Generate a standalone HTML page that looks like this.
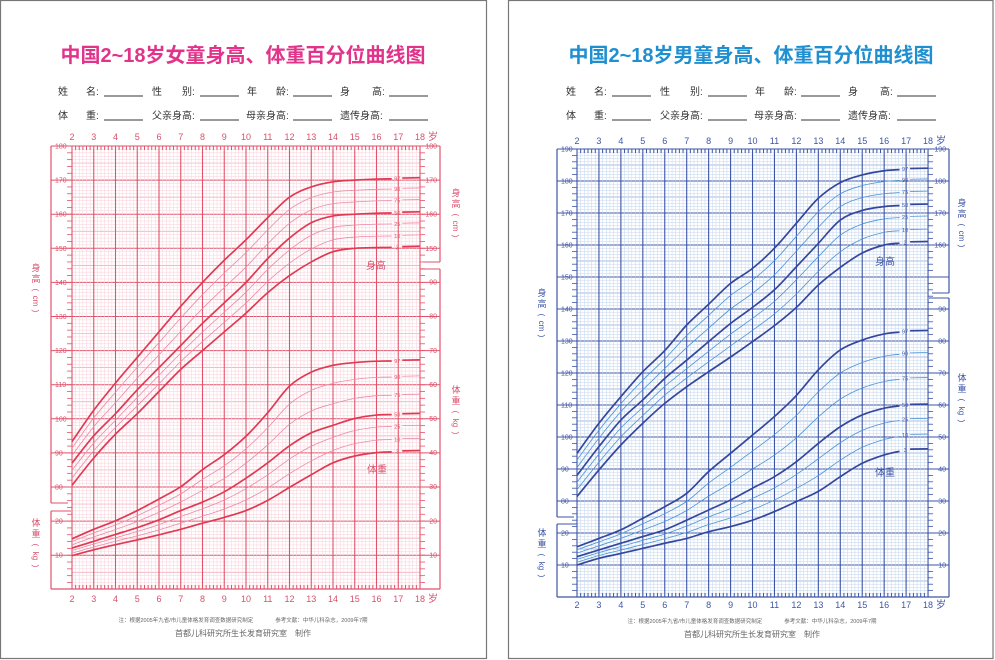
<!DOCTYPE html>
<html><head><meta charset="utf-8">
<style>
html,body{margin:0;padding:0;background:#fff;width:995px;height:660px;overflow:hidden}
svg{display:block}
text{font-family:"Liberation Sans","Noto Sans CJK SC",sans-serif}
</style></head>
<body>
<svg id="s" width="995" height="660" viewBox="0 0 995 660" xmlns="http://www.w3.org/2000/svg"></svg>
<script>
const out=[];
const L=(x1,y1,x2,y2,c,w)=>out.push(`<line x1="${x1.toFixed(2)}" y1="${y1.toFixed(2)}" x2="${x2.toFixed(2)}" y2="${y2.toFixed(2)}" stroke="${c}" stroke-width="${w}"/>`);
const T=(x,y,s,size,c,anchor,extra)=>out.push(`<text x="${x}" y="${y}" font-size="${size}" fill="${c}" text-anchor="${anchor||'start'}" ${extra||''}>${s}</text>`);

out.push('<rect x="0.5" y="0.5" width="486" height="658" fill="#fff" stroke="#777" stroke-width="1.2"/>');
out.push('<rect x="508.5" y="0.5" width="484.5" height="658" fill="#fff" stroke="#777" stroke-width="1.2"/>');

function smooth(pts){
  let d=`M${pts[0][0].toFixed(2)},${pts[0][1].toFixed(2)}`;
  for(let i=0;i<pts.length-1;i++){
    const p0=pts[i-1]||pts[i],p1=pts[i],p2=pts[i+1],p3=pts[i+2]||p2;
    const c1=[p1[0]+(p2[0]-p0[0])/6,p1[1]+(p2[1]-p0[1])/6];
    const c2=[p2[0]-(p3[0]-p1[0])/6,p2[1]-(p3[1]-p1[1])/6];
    d+=`C${c1[0].toFixed(2)},${c1[1].toFixed(2)} ${c2[0].toFixed(2)},${c2[1].toFixed(2)} ${p2[0].toFixed(2)},${p2[1].toFixed(2)}`;
  }
  return d;
}
function pcts(p3,p50,p97){
  const r={};
  r[3]=p3;r[50]=p50;r[97]=p97;
  r[10]=p3.map((v,i)=>v+0.33*(p50[i]-v));
  r[25]=p3.map((v,i)=>v+0.68*(p50[i]-v));
  r[75]=p50.map((v,i)=>v+0.36*(p97[i]-v));
  r[90]=p50.map((v,i)=>v+0.70*(p97[i]-v));
  return r;
}
function vlabel(x,yc,a,b,c){
  const n=a.length;const step=11;
  const total=(n+2)*step+ b.length*5;
  let y=yc-total/2+8;
  for(const ch of a){T(x,y,ch,9,c,'middle');y+=step;}
  T(x,y,'(',8,c,'middle',`transform="rotate(90 ${x} ${y-3})"`);y+=step-2;
  const ub=y+b.length*2.5-3;
  T(x,ub,b,8,c,'middle',`transform="rotate(90 ${x} ${ub-3})"`);y+=b.length*5+2;
  T(x,y,')',8,c,'middle',`transform="rotate(90 ${x} ${y-3})"`);
}

function chart(c){
  const X=a=>c.x0+(a-2)*c.dx;
  const YH=h=>c.yTop+(c.hMax-h)*c.px;
  const YW=w=>c.yBot-w*c.px;
  const gx0=X(2),gx1=X(18);
  const hMin=c.hMax-(c.yBot-c.yTop)/c.px;
  for(let h=c.hMax;h>=Math.ceil(hMin);h--){
    const y=YH(h);
    if(h%10==0) L(c.fL,y,c.fR,y,c.major,1);
    else if(h%5==0) L(gx0,y,gx1,y,c.mid,0.7);
    else L(gx0,y,gx1,y,c.minor,0.5);
  }
  for(let i=0;i<=96;i++){
    const x=X(2+i/6);
    if(i%6==0) L(x,c.yTop,x,c.yBot,c.major,1.1);
    else L(x,c.yTop,x,c.yBot,c.minor,0.5);
    if(i%6!=0){L(x,c.yTop,x,c.yTop+4,c.major,1);L(x,c.yBot,x,c.yBot-4,c.major,1);}
  }
  L(c.fL,c.yTop,gx0,c.yTop,c.major,1);L(gx1,c.yTop,c.fR,c.yTop,c.major,1);
  L(c.fL,c.yBot,c.fR,c.yBot,c.major,1.2);
  L(c.fL,c.yTop,c.fL,c.lHb,c.major,1.2);
  L(c.fL,c.lWt,c.fL,c.yBot,c.major,1.2);
  L(c.fL,c.lHb,c.fL+17,c.lHb,c.major,1);L(c.fL,c.lWt,c.fL+20,c.lWt,c.major,1);
  L(c.fR,c.yTop,c.fR,c.rHb,c.major,1.2);
  L(c.fR,c.rWt,c.fR,c.yBot,c.major,1.2);
  L(c.fR,c.rHb,c.fR-17,c.rHb,c.major,1);L(c.fR,c.rWt,c.fR-20,c.rWt,c.major,1);
  for(let h=c.hMax;h>=Math.ceil(hMin);h-=1){
    if(h%2) continue;
    const y=YH(h);
    L(gx0-5,y,gx0,y,c.major,0.8);L(gx1,y,gx1+5,y,c.major,0.8);
  }
  for(let h=c.hMax;h>=80;h-=10) T(c.fL+4,YH(h)+2.5,h,7,c.text,'start');
  for(const w of [20,10]) T(c.fL+4,YW(w)+2.5,w,7,c.text,'start');
  for(let h=c.hMax;h>=c.rHmin;h-=10) T(c.fR-3,YH(h)+2.5,h,7,c.text,'end');
  for(let w=90;w>=10;w-=10) if(YW(w)>c.rWt+3) T(c.fR-3,YW(w)+2.5,w,7,c.text,'end');
  for(let a=2;a<=18;a++){T(X(a),c.ageTop,a,9,c.text,'middle');T(X(a),c.ageBot,a,9,c.text,'middle');}
  T(X(18)+8,c.ageTop,'岁',10,c.text,'start');T(X(18)+8,c.ageBot,'岁',10,c.text,'start');
  vlabel(c.lT,c.lHt,'身高','cm',c.text);vlabel(c.lT,c.lWtT,'体重','kg',c.text);
  vlabel(c.rT,c.rHt,'身高','cm',c.text);vlabel(c.rT,c.rWtT,'体重','kg',c.text);
  const draw=(set,Y)=>{
    for(const p of [10,25,75,90,3,50,97]){
      const v=set[p];const thick=(p==3||p==50||p==97);
      const pts=[];for(let i=0;i<=14;i++) pts.push([X(2+i),Y(v[i])]);
      const ve=v[14]+0.7*(v[15]-v[14]);pts.push([X(16.7),Y(ve)]);
      out.push(`<path d="${smooth(pts)}" fill="none" stroke="${thick?c.thick:c.thin}" stroke-width="${thick?1.7:0.8}"/>`);
      const yl=Y(v[15]);
      T(X(17)-1,yl+2,p,5.5,c.text,'middle');
      L(X(17)+4,Y(v[15]+0.2),gx1,Y(v[15]+0.3),thick?c.thick:c.thin,thick?1.7:0.8);
    }
  };
  draw(c.H,YH);draw(c.W,YW);
  T(c.hLab[0],c.hLab[1],'身高',10,c.text,'middle');
  T(c.wLab[0],c.wLab[1],'体重',10,c.text,'middle');
}

chart({x0:72,dx:21.75,fL:51,fR:440,yTop:146,yBot:589,px:3.41,hMax:180,
 lHb:503,lWt:511,rHb:262,rWt:269,rHmin:150,
 major:'#e2526a',mid:'#f0a0b0',minor:'#f8d0da',thick:'#e03a52',thin:'#ec8aa6',text:'#d9506a',
 ageTop:140,ageBot:602,lT:36,lHt:290,lWtT:545,rT:456,rHt:215,rWtT:412,
 hLab:[376,269],wLab:[377,473],
 H:pcts(
  [80.5,88.5,95.5,101.5,108,114.5,120,125.5,131,137,142,146,149,150,150.2,150.3],
  [87,95,101.5,108.5,115,121.5,128,134,140,147,153,157.5,159.5,160,160.3,160.4],
  [93.3,102.5,110.5,118,125.5,133,140,146.5,152.5,159,165,168,169.5,170,170.3,170.4]),
 W:pcts(
  [9.8,11.5,13,14.4,15.9,17.5,19.3,21,23,26,29.8,33.5,37,39,40,40.3],
  [12,14,16,18,20.3,23,25.5,28.5,32.5,37,42,45.8,48,50,51,51.2],
  [14.7,17.5,20,23,26.4,30,35,39.4,44.8,51.7,59.5,63.6,65.6,66.4,66.8,66.9])
});
chart({x0:577,dx:21.94,fL:557,fR:949,yTop:149,yBot:597,px:3.2,hMax:190,
 lHb:517,lWt:524,rHb:293,rWt:298,rHmin:160,
 major:'#3d55a6',mid:'#8fa8d8',minor:'#c2d6ef',thick:'#34479c',thin:'#4b93d6',text:'#3d55a6',
 ageTop:144,ageBot:608,lT:542,lHt:315,lWtT:555,rT:962,rHt:225,rWtT:400,
 hLab:[885,265],wLab:[885,476],
 H:pcts(
  [81.4,89.7,97.5,104.3,110.5,115.7,120.4,125,129.8,134.8,140.5,147.5,153,157.5,160,160.8],
  [88,97,105.3,111.6,118.3,124,129.8,135.5,140.5,146,153.2,160.5,167.8,170.8,172,172.5],
  [94.9,104.3,112.6,120.4,127,135,141.5,148,152.7,159,166.8,174.6,179.5,181.9,183.2,183.7]),
 W:pcts(
  [10,12.1,13.6,15.2,16.8,18.3,20.4,22,24,26.7,29.8,33,37.6,41.8,44.4,46],
  [12.6,14.7,16.8,18.9,21,24,27.2,30.3,34,37.6,42.3,48,53.2,56.9,59,60],
  [15.7,18.3,21,24.6,28.2,32.4,39.2,44.9,50.6,56.4,63,71,77.2,80.3,82.2,83])
});

T(243,62,'中国2~18岁女童身高、体重百分位曲线图',20,'#e2338a','middle','font-weight="bold"');
T(751,62,'中国2~18岁男童身高、体重百分位曲线图',20,'#1f8fd0','middle','font-weight="bold"');
function form(o){
  const c='#333',fs=10;
  const rows=[[[58,'姓'],[86,'名:'],[152,'性'],[182,'别:'],[247,'年'],[276,'龄:'],[340,'身'],[372,'高:']],
              [[58,'体'],[86,'重:'],[152,'父亲身高:'],[246,'母亲身高:'],[340,'遗传身高:']]];
  const ys=[95,119];
  rows.forEach((r,i)=>r.forEach(([x,s])=>T(x+o,ys[i],s,fs,c)));
  for(const y of [96,120]) for(const x of [104,200,293,389]) L(x+o,y,x+o+39,y,'#333',1);
}
form(0);form(508);
T(243,622,'注：根据2005年九省/市儿童体格发育调查数据研究制定　　　　参考文献：中华儿科杂志，2009年7期',5.5,'#666','middle');
T(243,636,'首都儿科研究所生长发育研究室　制作',8,'#666','middle');
T(752,623,'注：根据2005年九省/市儿童体格发育调查数据研究制定　　　　参考文献：中华儿科杂志，2009年7期',5.5,'#666','middle');
T(752,637,'首都儿科研究所生长发育研究室　制作',8,'#666','middle');

document.getElementById('s').innerHTML=out.join('');
</script>
</body></html>
